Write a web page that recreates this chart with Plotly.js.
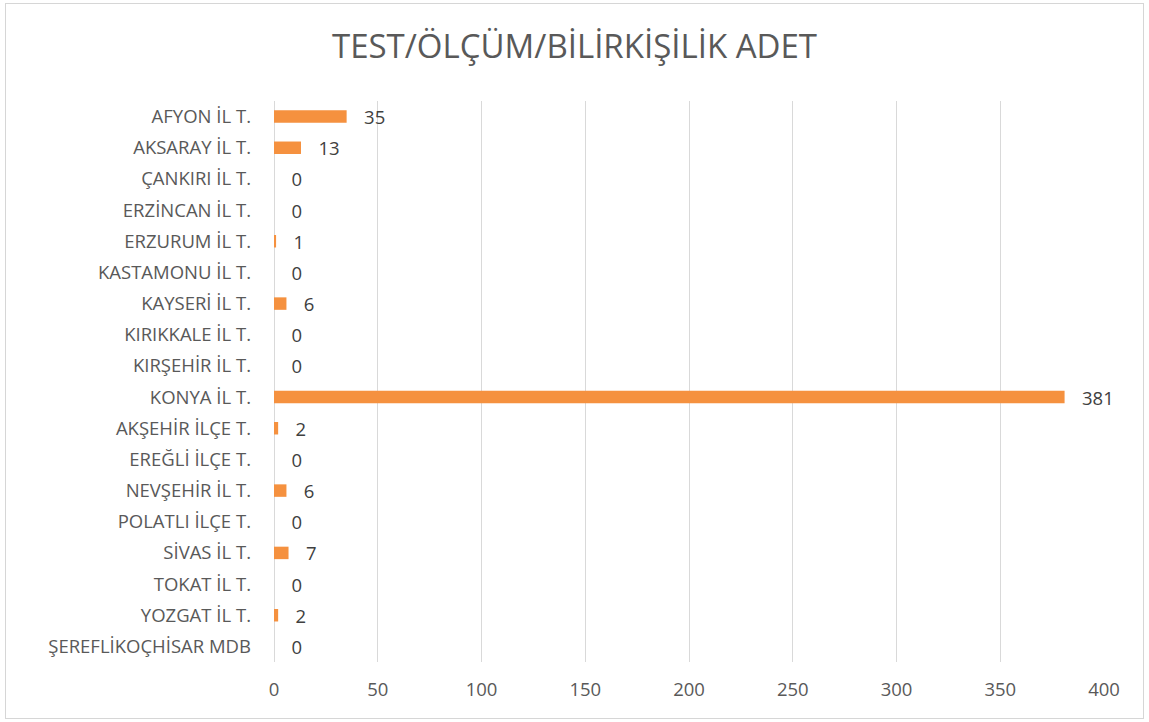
<!DOCTYPE html>
<html><head><meta charset="utf-8">
<script src="https://cdn.plot.ly/plotly-3.0.1.min.js"></script>
<style>
body{margin:0;padding:0;background:#fff;}
#wrap{position:relative;width:1149px;height:722px;}
#chart{width:1149px;height:722px;}
#frame{position:absolute;left:5px;top:3px;width:1137px;height:714px;border:1px solid #d6d6d6;pointer-events:none;}
</style></head>
<body>
<div id="wrap"><div id="chart"></div><div id="frame"></div></div>
<script>
const categories = ["AFYON İL T.","AKSARAY İL T.","ÇANKIRI İL T.","ERZİNCAN İL T.","ERZURUM İL T.","KASTAMONU İL T.","KAYSERİ İL T.","KIRIKKALE İL T.","KIRŞEHİR İL T.","KONYA İL T.","AKŞEHİR İLÇE T.","EREĞLİ İLÇE T.","NEVŞEHİR İL T.","POLATLI İLÇE T.","SİVAS İL T.","TOKAT İL T.","YOZGAT İL T.","ŞEREFLİKOÇHİSAR MDB"];
const values = [35,13,0,0,1,0,6,0,0,381,2,0,6,0,7,0,2,0];
const xTicks = [0,50,100,150,200,250,300,350,400];

const trace = {
  type:'bar', orientation:'h',
  y: categories, x: values,
  width: 0.4,
  marker:{color:'#F5913F'},
  text: values.map(v => '\u00a0\u00a0\u00a0' + v), textposition:'outside', cliponaxis:false,
  constraintext:'none',
  textfont:{family:'Open Sans, sans-serif', size:18.5, color:'#404040'},
  hoverinfo:'none'
};
const layout = {
  width:1149, height:722,
  margin:{l:274, r:45, t:101, b:60},
  paper_bgcolor:'rgba(0,0,0,0)', plot_bgcolor:'rgba(0,0,0,0)',
  title:{text:'TEST/ÖLÇÜM/BİLİRKİŞİLİK ADET', x:0.5, xanchor:'center', y:0.935, yanchor:'middle',
         font:{family:'Open Sans, sans-serif', size:33, color:'#595959'}},
  xaxis:{range:[0,400], tickvals:xTicks, ticktext:xTicks.map(String), showgrid:true, gridcolor:'#d9d9d9', gridwidth:1,
         zeroline:true, zerolinecolor:'#d9d9d9', showline:false, ticks:'',
         tickfont:{family:'Open Sans, sans-serif', size:18.5, color:'#595959'}, ticklabelstandoff:14},
  yaxis:{autorange:'reversed', showgrid:false, ticks:'', showline:false,
         tickfont:{family:'Open Sans, sans-serif', size:18.5, color:'#595959'}, ticklabelstandoff:22},
  showlegend:false
};
Plotly.newPlot('chart',[trace],layout,{displayModeBar:false, staticPlot:true});
</script>
</body></html>
